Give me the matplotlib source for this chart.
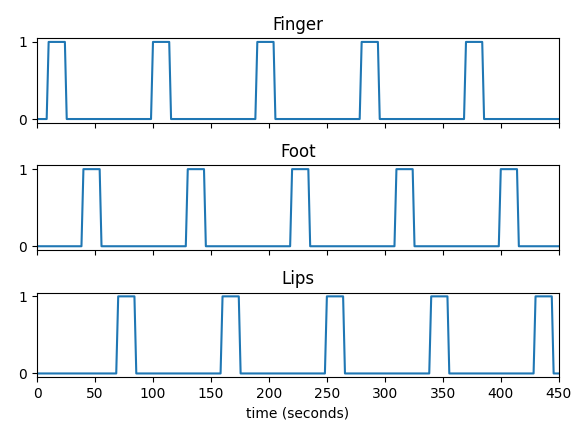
import numpy as np
import matplotlib.pyplot as plt

# block design regressors, breakpoints (seconds) and values
finger_t = [0, 8.3, 10, 24, 25.6, 98.3, 100, 114, 115.6, 188.3, 190, 204, 205.6,
            278.3, 280, 294, 295.6, 368.3, 370, 384, 385.6, 450]
finger_v = [0, 0, 1, 1, 0, 0, 1, 1, 0, 0, 1, 1, 0, 0, 1, 1, 0, 0, 1, 1, 0, 0]

foot_t = [0, 38.3, 40, 54, 55.6, 128.3, 130, 144, 145.6, 218.3, 220, 234, 235.6,
          308.3, 310, 324, 325.6, 398.3, 400, 414, 415.6, 450]
foot_v = [0, 0, 1, 1, 0, 0, 1, 1, 0, 0, 1, 1, 0, 0, 1, 1, 0, 0, 1, 1, 0, 0]

lips_t = [0, 68.3, 70, 84, 85.6, 158.3, 160, 174, 175.6, 248.3, 250, 264, 265.6,
          338.3, 340, 354, 355.6, 428.3, 430, 444, 445.6, 450]
lips_v = [0, 0, 1, 1, 0, 0, 1, 1, 0, 0, 1, 1, 0, 0, 1, 1, 0, 0, 1, 1, 0, 0]

names = ["Finger", "Foot", "Lips"]
series = [(finger_t, finger_v), (foot_t, foot_v), (lips_t, lips_v)]

fig, axes = plt.subplots(3, 1, sharex=True, figsize=(5.79, 4.23), dpi=100)
fig.subplots_adjust(left=0.064, right=0.965, top=0.910, bottom=0.108, hspace=0.5)

for ax, name, (t, v) in zip(axes, names, series):
    ax.plot(t, v, color="#1f77b4")
    ax.set_title(name)
    ax.set_yticks([0, 1])

axes[-1].set_xlim(0, 450)
axes[-1].set_xlabel("time (seconds)")

plt.savefig("out.png")
